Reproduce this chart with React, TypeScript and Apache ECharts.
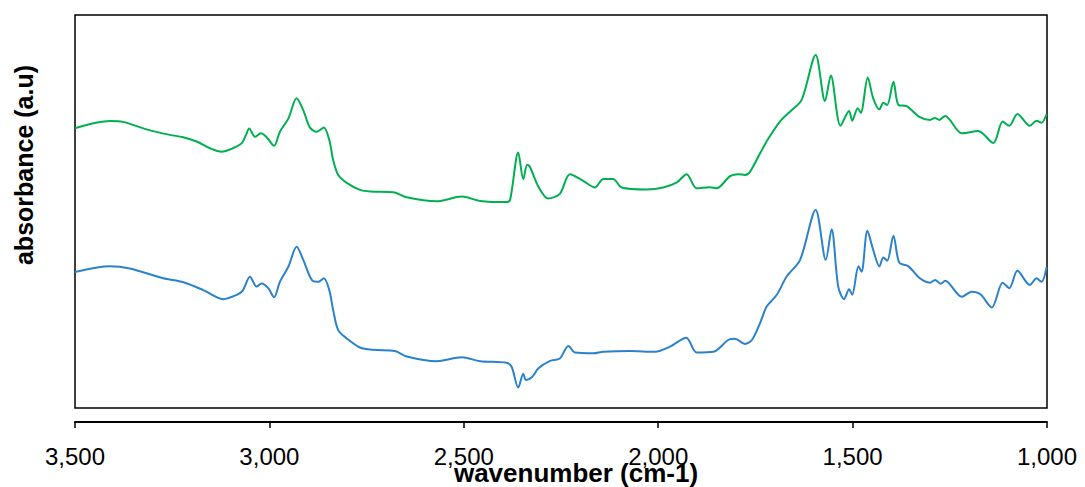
import React, { useEffect, useRef } from "react";
import * as echarts from "echarts";

// FTIR spectra: wavenumber (cm-1) against absorbance (arbitrary units, offset traces)
const upperWavenumber = [
  3500, 3410, 3377, 3316, 3256, 3222, 3187, 3153, 3123, 3094, 3071, 3060, 3052, 3037, 3022, 3007,
  2988, 2973, 2951, 2930, 2913, 2896, 2878, 2860, 2846, 2836, 2823, 2801, 2767, 2741, 2681, 2647,
  2570, 2505, 2458, 2390, 2381, 2360, 2347, 2337, 2330, 2308, 2283, 2253, 2227, 2193, 2163, 2141,
  2116, 2094, 2030, 1987, 1952, 1927, 1901, 1867, 1850, 1815, 1794, 1777, 1764, 1738, 1717, 1687,
  1661, 1631, 1595, 1571, 1556, 1531, 1509, 1501, 1487, 1479, 1461, 1447, 1431, 1421, 1411, 1395,
  1382, 1361, 1327, 1301, 1288, 1277, 1262, 1219, 1177, 1138, 1114, 1097, 1076, 1044, 1027, 1014,
  1001,
];
const upperAbsorbance = [
  0.712, 0.73, 0.728, 0.709, 0.695, 0.689, 0.678, 0.661, 0.652, 0.661, 0.674, 0.695, 0.711, 0.69,
  0.699, 0.689, 0.667, 0.703, 0.737, 0.788, 0.758, 0.714, 0.703, 0.714, 0.682, 0.631, 0.593, 0.573,
  0.555, 0.551, 0.549, 0.536, 0.526, 0.538, 0.527, 0.524, 0.529, 0.65, 0.582, 0.619, 0.614, 0.563,
  0.533, 0.545, 0.595, 0.578, 0.561, 0.583, 0.583, 0.561, 0.556, 0.561, 0.574, 0.595, 0.559, 0.562,
  0.559, 0.59, 0.595, 0.593, 0.601, 0.648, 0.685, 0.729, 0.754, 0.784, 0.898, 0.781, 0.846, 0.718,
  0.756, 0.731, 0.763, 0.751, 0.841, 0.788, 0.76, 0.777, 0.771, 0.83, 0.771, 0.768, 0.74, 0.733,
  0.738, 0.733, 0.743, 0.699, 0.705, 0.674, 0.729, 0.718, 0.748, 0.718, 0.731, 0.726, 0.748,
];

const lowerWavenumber = [
  3500, 3410, 3359, 3273, 3221, 3170, 3119, 3084, 3069, 3050, 3033, 3020, 3003, 2988, 2973, 2951,
  2930, 2913, 2891, 2874, 2860, 2846, 2836, 2823, 2801, 2767, 2733, 2677, 2647, 2570, 2505, 2458,
  2390, 2377, 2360, 2347, 2340, 2325, 2308, 2278, 2253, 2231, 2214, 2167, 2141, 2073, 2008, 1970,
  1928, 1901, 1858, 1820, 1803, 1777, 1759, 1738, 1721, 1695, 1670, 1635, 1595, 1569, 1554, 1537,
  1522, 1509, 1501, 1485, 1477, 1462, 1447, 1431, 1421, 1411, 1395, 1380, 1357, 1327, 1301, 1288,
  1273, 1262, 1219, 1194, 1172, 1142, 1114, 1097, 1076, 1044, 1027, 1014, 1001,
];
const lowerAbsorbance = [
  0.346, 0.361, 0.355, 0.33, 0.32, 0.3, 0.277, 0.288, 0.298, 0.334, 0.309, 0.317, 0.305, 0.282,
  0.321, 0.36, 0.41, 0.377, 0.326, 0.321, 0.33, 0.3, 0.249, 0.198, 0.177, 0.154, 0.148, 0.145,
  0.131, 0.119, 0.129, 0.119, 0.115, 0.105, 0.052, 0.087, 0.071, 0.078, 0.101, 0.12, 0.126, 0.158,
  0.141, 0.139, 0.143, 0.145, 0.143, 0.156, 0.179, 0.141, 0.143, 0.173, 0.176, 0.163, 0.173, 0.216,
  0.258, 0.288, 0.334, 0.377, 0.504, 0.377, 0.455, 0.309, 0.277, 0.302, 0.288, 0.361, 0.347, 0.451,
  0.402, 0.36, 0.383, 0.375, 0.438, 0.37, 0.361, 0.33, 0.319, 0.326, 0.316, 0.324, 0.283, 0.296,
  0.29, 0.256, 0.319, 0.305, 0.349, 0.313, 0.33, 0.321, 0.358,
];

const xTicks = { min: 1000, max: 3500, step: 500 };

const toPairs = (xs: number[], ys: number[]) => xs.map((x, i) => [x, ys[i]]);

const FONT = "'Liberation Sans', Arial, sans-serif";

export default function App() {
  const ref = useRef<HTMLDivElement>(null);

  useEffect(() => {
    if (!ref.current) return;
    const chart = echarts.init(ref.current, undefined, { renderer: "svg" });
    chart.setOption({
      animation: false,
      backgroundColor: "#ffffff",
      grid: {
        left: 75,
        top: 15,
        width: 972,
        height: 393,
        show: true,
        borderColor: "#000000",
        borderWidth: 1.5,
        backgroundColor: "transparent",
      },
      xAxis: {
        type: "value",
        min: xTicks.min,
        max: xTicks.max,
        interval: xTicks.step,
        inverse: true,
        position: "bottom",
        offset: 14,
        axisLine: { show: true, onZero: false, lineStyle: { color: "#000000", width: 2 } },
        axisTick: { show: true, length: 6, lineStyle: { color: "#000000", width: 1.5 } },
        splitLine: { show: false },
        axisLabel: {
          margin: 22,
          fontSize: 24,
          color: "#000000",
          fontFamily: FONT,
          formatter: (v: number) => v.toLocaleString("en-US"),
        },
      },
      yAxis: {
        type: "value",
        min: 0,
        max: 1,
        show: false,
      },
      graphic: [
        {
          type: "text",
          x: 576,
          y: 473,
          style: {
            text: "wavenumber (cm-1)",
            fontSize: 26,
            fontWeight: "bold",
            fontFamily: FONT,
            fill: "#000000",
            align: "center",
            verticalAlign: "middle",
          },
        },
        {
          type: "text",
          x: 24,
          y: 165,
          rotation: Math.PI / 2,
          style: {
            text: "absorbance (a.u)",
            fontSize: 25,
            fontWeight: "bold",
            fontFamily: FONT,
            fill: "#000000",
            align: "center",
            verticalAlign: "middle",
          },
        },
      ],
      series: [
        {
          name: "upper spectrum",
          type: "line",
          data: toPairs(upperWavenumber, upperAbsorbance),
          showSymbol: false,
          smooth: 0.3,
          lineStyle: { color: "#00B050", width: 2 },
        },
        {
          name: "lower spectrum",
          type: "line",
          data: toPairs(lowerWavenumber, lowerAbsorbance),
          showSymbol: false,
          smooth: 0.3,
          lineStyle: { color: "#2A82CC", width: 2 },
        },
      ],
    });
    return () => chart.dispose();
  }, []);

  return <div ref={ref} style={{ width: 1085, height: 487, position: "absolute", left: 0, top: 0 }} />;
}
